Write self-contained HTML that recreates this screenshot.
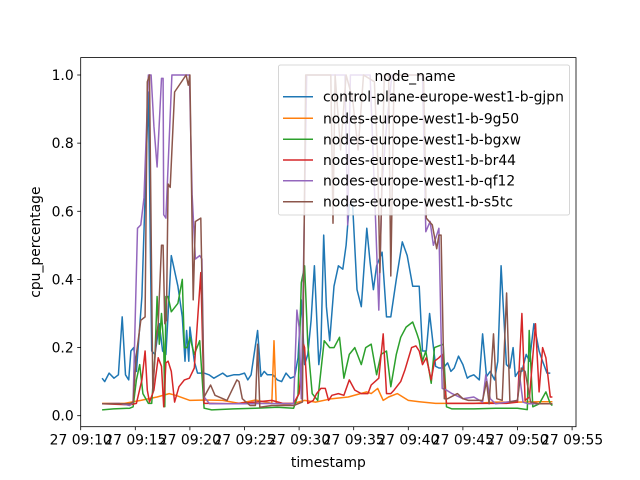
<!DOCTYPE html>
<html><head><meta charset="utf-8">
<style>
html,body{margin:0;padding:0;background:#fff;}
svg{display:block;font-family:"DejaVu Sans","Liberation Sans",sans-serif;}
</style></head>
<body>
<svg id="chart" width="640" height="480" viewBox="0 0 640 480" xmlns="http://www.w3.org/2000/svg">
<rect width="640" height="480" fill="#fff"/>
<g id="plot"></g>
<g id="axes"></g>
<g id="legend"></g>
</svg>
<script>
// minutes after 09:10, values = cpu_percentage
const seriesNames = ["control-plane-europe-west1-b-gjpn","nodes-europe-west1-b-9g50","nodes-europe-west1-b-bgxw","nodes-europe-west1-b-br44","nodes-europe-west1-b-qf12","nodes-europe-west1-b-s5tc"];
const seriesColors = ["#1f77b4","#ff7f0e","#2ca02c","#d62728","#9467bd","#8c564b"];
const xTickMinutes = [0,5,10,15,20,25,30,35,40,45];
const xTickLabels = ["27 09:10","27 09:15","27 09:20","27 09:25","27 09:30","27 09:35","27 09:40","27 09:45","27 09:50","27 09:55"];
const yTickValues = [0,0.2,0.4,0.6,0.8,1.0];
const yTickLabels = ["0.0","0.2","0.4","0.6","0.8","1.0"];

const gjpnT = [1.96,2.2,2.6,3.05,3.45,3.8,4.1,4.4,4.6,4.85,5.1,5.6,6.2,6.5,6.8,7.2,7.5,7.8,8.3,8.9,9.3,9.55,9.7,9.9,10.0,10.4,10.7,11.3,11.75,12.2,13.0,13.4,14.0,14.5,15.0,15.3,15.6,16.2,16.5,16.8,17.1,17.6,18.0,18.4,18.8,19.2,19.6,19.9,20.2,20.5,20.8,21.1,21.4,21.8,22.0,22.25,22.5,22.8,23.2,23.6,24.0,24.3,24.6,24.9,25.3,25.7,26.2,26.5,26.8,27.1,27.6,28.0,28.4,28.9,29.45,29.9,30.4,30.8,31.0,31.3,31.65,31.95,32.5,32.8,33.2,33.6,33.9,34.2,34.6,35.0,35.4,35.6,36.0,36.5,36.8,37.16,37.5,37.9,38.2,38.5,38.98,39.3,39.6,39.8,40.1,40.4,40.8,41.1,41.5,41.98,42.3,42.7,43.0,43.2];
const gjpnV = [0.11,0.10,0.125,0.11,0.12,0.29,0.12,0.105,0.19,0.20,0.13,0.35,0.95,0.19,0.18,0.27,0.19,0.18,0.47,0.38,0.29,0.16,0.25,0.16,0.26,0.16,0.125,0.125,0.12,0.11,0.125,0.115,0.12,0.12,0.125,0.105,0.12,0.25,0.115,0.13,0.12,0.12,0.105,0.10,0.125,0.11,0.115,0.17,0.34,0.15,0.18,0.28,0.44,0.15,0.20,0.53,0.32,0.22,0.38,0.44,0.43,0.50,0.62,0.62,0.37,0.32,0.55,0.45,0.37,0.44,0.48,0.29,0.29,0.40,0.51,0.47,0.38,0.38,0.38,0.19,0.19,0.30,0.145,0.14,0.14,0.155,0.13,0.14,0.175,0.15,0.11,0.115,0.12,0.105,0.24,0.115,0.13,0.105,0.16,0.44,0.15,0.14,0.20,0.115,0.13,0.13,0.18,0.16,0.27,0.19,0.16,0.125,0.125];

const g9g50T = [1.96,4.0,5.5,7.0,8.1,8.7,10.0,11.5,13.0,14.5,16.0,17.5,17.7,17.9,19.0,20.5,21.5,23.0,24.5,26.2,26.6,27.2,27.7,28.2,29.0,30.0,31.0,32.5,34.0,36.0,38.0,40.0,42.0,43.2];
const g9g50V = [0.036,0.036,0.045,0.055,0.065,0.06,0.045,0.046,0.045,0.036,0.046,0.036,0.22,0.036,0.032,0.045,0.04,0.05,0.055,0.07,0.065,0.08,0.045,0.055,0.065,0.045,0.041,0.036,0.036,0.036,0.04,0.04,0.041,0.041];

const bgxwT = [1.96,3.0,4.5,4.8,5.1,5.4,5.7,6.2,6.5,6.8,7.0,7.2,7.4,7.6,7.7,7.8,8.0,8.3,8.9,9.3,9.5,9.75,10.0,10.4,10.9,11.3,12.0,14.0,16.0,18.0,19.5,19.9,20.2,20.5,20.8,21.2,21.7,22.3,22.8,23.2,23.7,24.1,24.6,25.1,25.7,26.1,26.6,27.1,27.5,28.0,28.4,28.9,29.3,29.8,30.4,30.8,31.0,31.3,31.6,32.1,32.4,33.2,33.5,34.0,36.0,38.0,40.0,40.9,41.07,41.4,42.0,42.6,43.0,43.2];
const bgxwV = [0.017,0.02,0.022,0.026,0.105,0.15,0.065,0.036,0.036,0.18,0.35,0.21,0.30,0.21,0.026,0.35,0.35,0.305,0.33,0.40,0.20,0.20,0.23,0.18,0.22,0.022,0.017,0.02,0.022,0.025,0.022,0.06,0.39,0.44,0.21,0.065,0.045,0.22,0.20,0.20,0.23,0.11,0.18,0.20,0.15,0.20,0.21,0.12,0.18,0.19,0.085,0.18,0.23,0.26,0.275,0.24,0.22,0.16,0.19,0.095,0.20,0.21,0.026,0.02,0.02,0.022,0.022,0.018,0.25,0.026,0.035,0.07,0.035,0.03];

const br44T = [1.96,4.5,5.1,5.6,5.9,6.1,6.3,6.7,7.1,7.4,7.6,7.8,8.0,8.3,8.6,9.0,9.5,9.95,10.4,11.0,11.3,12.0,14.0,16.0,17.5,18.5,19.5,20.0,20.4,20.5,20.8,21.3,21.6,22.0,22.4,22.7,23.0,23.6,24.1,24.6,25.1,25.7,26.3,26.6,27.3,27.7,28.0,28.4,28.7,29.3,29.7,30.3,30.7,31.0,31.3,31.65,32.1,32.4,32.8,33.1,33.5,35.0,37.0,39.0,40.0,40.4,40.7,41.1,41.65,41.98,42.3,42.6,43.0,43.2];
const br44V = [0.035,0.032,0.036,0.105,0.19,0.075,0.04,0.075,0.17,0.145,0.026,0.155,0.16,0.13,0.04,0.085,0.105,0.11,0.14,0.42,0.036,0.036,0.035,0.04,0.045,0.036,0.036,0.065,0.21,0.20,0.036,0.045,0.065,0.08,0.08,0.045,0.06,0.065,0.06,0.105,0.075,0.065,0.065,0.09,0.11,0.24,0.065,0.065,0.075,0.10,0.135,0.20,0.205,0.19,0.15,0.17,0.105,0.16,0.17,0.18,0.036,0.036,0.036,0.036,0.04,0.30,0.045,0.055,0.27,0.07,0.20,0.17,0.055,0.055];

const qf12T = [1.96,3.5,4.5,4.8,5.2,5.5,5.8,6.2,6.45,6.7,7.0,7.4,7.55,7.6,7.8,8.35,9.95,10.2,10.5,10.9,11.1,11.3,11.8,13.0,15.0,17.0,19.0,19.5,19.8,20.0,20.2,20.7,22.0,24.2,24.45,24.7,26.5,27.0,27.3,27.6,28.0,28.5,31.3,31.6,32.0,32.3,32.8,33.1,33.5,34.0,35.0,36.0,36.8,37.1,37.5,38.0,39.0,40.0,40.2,40.5,41.0,42.0,43.2];
const qf12V = [0.035,0.036,0.03,0.04,0.55,0.56,0.64,1.0,1.0,0.85,0.73,0.99,0.99,0.59,0.58,1.0,1.0,0.65,0.46,0.47,0.46,0.055,0.035,0.035,0.035,0.036,0.035,0.035,0.31,0.26,0.05,1.0,1.0,1.0,0.56,1.0,1.0,0.58,0.31,0.68,0.85,1.0,1.0,0.54,0.57,0.50,0.55,0.08,0.075,0.065,0.05,0.055,0.04,0.12,0.05,0.035,0.04,0.045,0.115,0.04,0.035,0.035,0.035];

const s5tcT = [1.96,3.5,4.5,4.8,5.1,5.5,5.9,6.1,6.3,6.6,6.9,7.1,7.4,7.55,7.7,7.85,8.0,8.2,8.6,9.65,9.85,10.0,10.3,10.5,11.0,11.3,11.9,12.3,13.4,14.3,14.5,14.8,15.5,16.0,16.2,16.4,17.5,19.5,20.3,20.6,22.9,23.1,23.3,23.8,24.3,24.9,25.4,25.9,26.9,27.2,27.4,27.8,28.2,28.4,28.7,31.4,31.65,32.2,32.6,32.8,33.0,33.3,33.6,34.5,35.0,35.5,36.5,36.8,37.16,37.4,37.8,38.1,38.6,39.0,39.3,40.0,40.35,40.7,41.2,42.0,43.2];
const s5tcV = [0.035,0.035,0.035,0.04,0.18,0.28,0.29,0.98,1.0,0.07,0.22,0.27,0.50,0.50,0.27,0.28,0.68,0.67,0.95,1.0,0.97,1.0,0.34,0.57,0.58,0.055,0.09,0.06,0.045,0.105,0.10,0.05,0.03,0.03,0.21,0.025,0.03,0.03,0.04,1.0,1.0,0.565,1.0,0.78,1.0,0.93,0.78,1.0,0.98,0.75,0.42,1.0,1.0,0.41,1.0,1.0,0.58,0.56,0.49,0.53,0.53,0.05,0.05,0.065,0.05,0.045,0.045,0.045,0.10,0.035,0.24,0.05,0.045,0.36,0.04,0.045,0.14,0.13,0.04,0.035,0.035];

const seriesT = [gjpnT,g9g50T,bgxwT,br44T,qf12T,s5tcT];
const seriesV = [gjpnV,g9g50V,bgxwV,br44V,qf12V,s5tcV];

const NS = "http://www.w3.org/2000/svg";
const L=80.7, R=576, T=57.6, B=426.7;
const FS = 13.9;
function xScale(m){ return 80.7 + m*10.92; }
function yScale(v){ return 415.7 - v*340.7; }
function mk(tag, attrs, parent){ const e=document.createElementNS(NS,tag); for(const k in attrs) e.setAttribute(k,attrs[k]); parent.appendChild(e); return e; }

const plot=document.getElementById('plot');
const axes=document.getElementById('axes');
const legend=document.getElementById('legend');

for(let s=0;s<seriesNames.length;s++){
  const pts=seriesT[s].map((t,i)=>xScale(t).toFixed(1)+","+yScale(seriesV[s][i]).toFixed(1)).join(" ");
  const pl=mk('polyline',{points:pts,fill:'none',stroke:seriesColors[s],'stroke-width':1.5,'stroke-linejoin':'round'},plot);
  
  
}

const frame=mk('rect',{x:L,y:T,width:R-L,height:B-T,fill:'none',stroke:'#000','stroke-width':0.8},axes);



for(let i=0;i<xTickMinutes.length;i++){
  const x=xScale(xTickMinutes[i]);
  mk('line',{x1:x,y1:B,x2:x,y2:B+3.5,stroke:'#000','stroke-width':0.8},axes);
  const t=mk('text',{x:x,y:B+18,'font-size':FS,'text-anchor':'middle',fill:'#000'},axes);
  t.textContent=xTickLabels[i];
  
  
}
for(let i=0;i<yTickValues.length;i++){
  const y=yScale(yTickValues[i]);
  mk('line',{x1:L-3.5,y1:y,x2:L,y2:y,stroke:'#000','stroke-width':0.8},axes);
  const t=mk('text',{x:L-7,y:y+5,'font-size':FS,'text-anchor':'end',fill:'#000'},axes);
  t.textContent=yTickLabels[i];
  
  
}
const xt=mk('text',{x:(L+R)/2,y:467,'font-size':FS,'text-anchor':'middle',fill:'#000'},axes);
xt.textContent='timestamp';


const yt=mk('text',{x:0,y:0,'font-size':FS,'text-anchor':'middle',fill:'#000',transform:'translate(40,'+((T+B)/2)+') rotate(-90)'},axes);
yt.textContent='cpu_percentage';



const lb=mk('rect',{x:278.5,y:65,width:291,height:150,rx:2,fill:'#fff','fill-opacity':0.8,stroke:'#ccc','stroke-width':0.8},legend);


const lt=mk('text',{x:415,y:81,'font-size':FS,'text-anchor':'middle',fill:'#000'},legend);
lt.textContent='node_name';


const rowsY=[96.7,118.3,139.3,160,180.7,201.7];
for(let s=0;s<seriesNames.length;s++){
  const g=mk('g',{},legend);
  
  
  mk('line',{x1:283,y1:rowsY[s],x2:313,y2:rowsY[s],stroke:seriesColors[s],'stroke-width':1.5},g);
  const t=mk('text',{x:323,y:rowsY[s]+5,'font-size':FS,fill:'#000'},g);
  t.textContent=seriesNames[s];
}
</script>
</body></html>
